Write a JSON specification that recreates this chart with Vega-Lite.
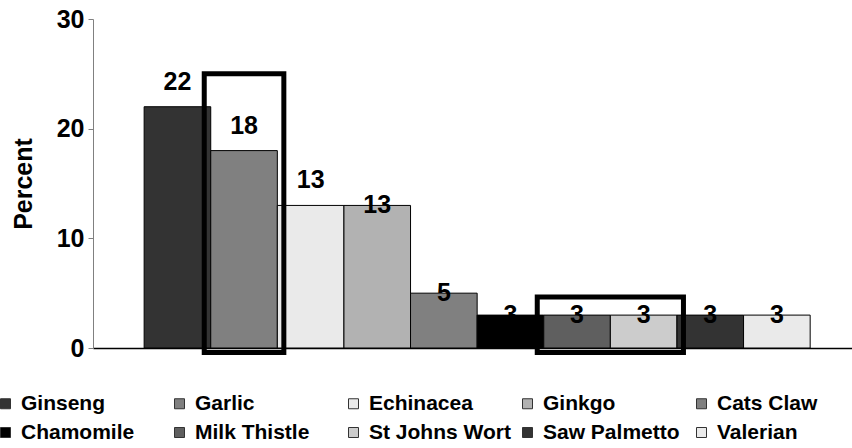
{
  "$schema": "https://vega.github.io/schema/vega-lite/v6.json",
  "width": 759,
  "height": 329,
  "autosize": {"type": "none"},
  "padding": {"left": 93, "top": 19, "right": 0, "bottom": 100},
  "config": {"view": {"stroke": null}, "font": "Liberation Sans"},
  "data": {
    "values": [
      {"herb": "Ginseng", "percent": 22},
      {"herb": "Garlic", "percent": 18},
      {"herb": "Echinacea", "percent": 13},
      {"herb": "Ginkgo", "percent": 13},
      {"herb": "Cats Claw", "percent": 5},
      {"herb": "Chamomile", "percent": 3},
      {"herb": "Milk Thistle", "percent": 3},
      {"herb": "St Johns Wort", "percent": 3},
      {"herb": "Saw Palmetto", "percent": 3},
      {"herb": "Valerian", "percent": 3}
    ]
  },
  "layer": [
    {
      "mark": {"type": "bar", "stroke": "#000", "strokeWidth": 1},
      "encoding": {
        "x": {
          "field": "herb", "type": "nominal", "sort": null,
          "scale": {"domain": ["Ginseng","Garlic","Echinacea","Ginkgo","Cats Claw","Chamomile","Milk Thistle","St Johns Wort","Saw Palmetto","Valerian"], "paddingInner": 0, "paddingOuter": 0.698, "align": 0.55},
          "axis": {"title": null, "labels": false, "ticks": false, "domainColor": "#000", "domainWidth": 1.5}
        },
        "y": {
          "field": "percent", "type": "quantitative",
          "scale": {"domain": [0, 30], "nice": false},
          "axis": {"title": "Percent", "values": [0, 10, 20, 30], "grid": false, "domainColor": "#808080", "tickColor": "#808080", "tickSize": 5, "labelFontSize": 25, "labelFontWeight": "bold", "labelColor": "#000", "labelPadding": 4, "labelFont": "Liberation Sans", "labelFlush": false, "labelOverlap": false, "titleFontSize": 25, "titleFontWeight": "bold", "titleColor": "#000", "titleFont": "Liberation Sans", "titleX": -70, "titleY": 164.5, "titleAngle": -90, "titleAlign": "center", "titleBaseline": "middle"}
        },
        "color": {
          "field": "herb", "type": "nominal",
          "scale": {"domain": ["Ginseng","Garlic","Echinacea","Ginkgo","Cats Claw","Chamomile","Milk Thistle","St Johns Wort","Saw Palmetto","Valerian"], "range": ["#333333","#808080","#eaeaea","#b2b2b2","#808080","#000000","#5f5f5f","#cccccc","#333333","#eaeaea"]},
          "legend": {"orient": "none", "legendX": -98, "legendY": 374, "columns": 5, "direction": "horizontal", "title": null, "symbolType": "square", "symbolSize": 100, "symbolStrokeColor": "#333", "symbolStrokeWidth": 1, "symbolOpacity": 1, "labelFont": "Liberation Sans", "labelFontSize": 21, "labelFontWeight": "bold", "labelColor": "#000", "labelOffset": 5, "gridAlign": "all", "columnPadding": 6, "rowPadding": 7, "padding": 0, "labelLimit": 300}
        }
      }
    },
    {
      "transform": [{"filter": {"field": "herb", "oneOf": ["Ginseng", "Garlic", "Echinacea"]}}],
      "mark": {"type": "text", "dy": -25, "baseline": "middle", "font": "Liberation Sans", "fontSize": 25, "fontWeight": "bold", "color": "#000"},
      "encoding": {
        "x": {"field": "herb", "type": "nominal", "sort": null},
        "y": {"field": "percent", "type": "quantitative"},
        "text": {"field": "percent", "type": "quantitative"}
      }
    },
    {
      "transform": [{"filter": {"not": {"field": "herb", "oneOf": ["Ginseng", "Garlic", "Echinacea"]}}}],
      "mark": {"type": "text", "dy": 0, "baseline": "middle", "font": "Liberation Sans", "fontSize": 25, "fontWeight": "bold", "color": "#000"},
      "encoding": {
        "x": {"field": "herb", "type": "nominal", "sort": null},
        "y": {"field": "percent", "type": "quantitative"},
        "text": {"field": "percent", "type": "quantitative"}
      }
    },
    {
      "data": {"values": [
        {"from": "Garlic", "to": "Garlic", "top": 25, "bottom": -0.4},
        {"from": "Milk Thistle", "to": "St Johns Wort", "top": 4.65, "bottom": -0.4}
      ]},
      "mark": {"type": "rect", "fill": "#fff", "fillOpacity": 0, "stroke": "#000", "strokeWidth": 5, "xOffset": -6.5, "x2Offset": 6.5},
      "encoding": {
        "x": {"field": "from", "type": "nominal", "bandPosition": 0},
        "x2": {"field": "to", "bandPosition": 1},
        "y": {"field": "top", "type": "quantitative"},
        "y2": {"field": "bottom"}
      }
    }
  ]
}
